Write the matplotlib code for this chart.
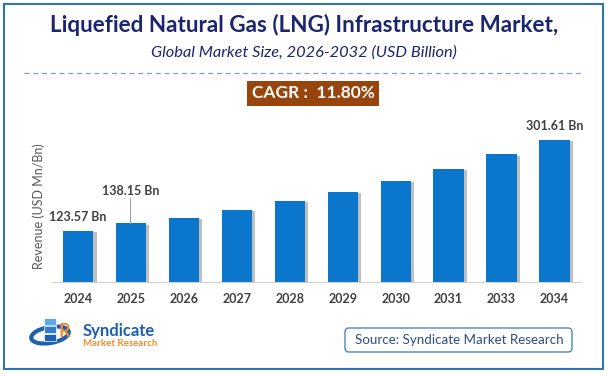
import matplotlib
matplotlib.use("Agg")
import matplotlib.pyplot as plt
import matplotlib.patheffects as pe
from matplotlib.patches import Rectangle, FancyBboxPatch, Ellipse

plt.rcParams['font.family'] = ['Lato', 'DejaVu Sans']

# data
years = ['2024', '2025', '2026', '2027', '2028', '2029', '2030', '2031', '2033', '2034']
revenue = [123.57, 138.15, 148.5, 164.2, 182.5, 200.1, 221.7, 244.7, 273.5, 301.61]
labelled = {0: '123.57 Bn', 1: '138.15 Bn', 9: '301.61 Bn'}

title = 'Liquefied Natural Gas (LNG) Infrastructure Market,'
subtitle = 'Global Market Size, 2026-2032 (USD Billion)'
cagr = 'CAGR :  11.80%'
source = 'Source: Syndicate Market Research'

W, H = 608, 376
bar_color = '#0A77CC'
navy = '#1B2570'
text_gray = '#404040'

fig = plt.figure(figsize=(W / 100, H / 100), dpi=100)

# overlay in pixel coordinates for frame, headings and footer
deco = fig.add_axes([0, 0, 1, 1])
deco.set_xlim(0, W)
deco.set_ylim(H, 0)
deco.axis('off')

deco.add_patch(Rectangle((4.3, 3.7), 599, 365, fill=False, ec='#2E75B6', lw=1.5))
deco.text(304, 25, title, ha='center', va='center', fontsize=16.2, fontweight='bold', color=navy)
deco.text(304, 53, subtitle, ha='center', va='center', fontsize=11.8, style='italic', color=navy)
deco.plot([24, 581], [73.3, 73.3], ls=(0, (4, 3)), color='#7F9FD4', lw=0.9)
deco.add_patch(Rectangle((247.3, 81), 131.7, 24.7, fc='#97450C', ec='none'))
deco.text(313, 93.5, cagr, ha='center', va='center', fontsize=12.5, fontweight='bold', color='white')

# source box
deco.add_patch(FancyBboxPatch((345, 328), 227, 24, boxstyle='round,pad=0,rounding_size=4',
                              fc='white', ec='#4A86C8', lw=1))
deco.text(459, 340, source, ha='center', va='center', fontsize=9.6, color='#2F4B8A')

# logo (rough)
deco.add_patch(Ellipse((50, 335), 38, 16, angle=-10, fill=False, ec='#1E5FB4', lw=3))
for i, (lx, ly) in enumerate([(44, 318), (44, 326), (44, 334)]):
    deco.add_patch(Rectangle((lx, ly), 12, 7, fc=['#5DA9E9', '#2F7FD0', '#1E5FB4'][i], ec='white', lw=0.5))
deco.text(58, 340, 'R', fontsize=13, fontweight='bold', color='#F28C28', ha='left', va='bottom')
deco.text(83, 331, 'Syndicate', fontsize=12, fontweight='bold', color='#1E5FB4', ha='left', va='center')
deco.text(83, 344, 'Market Research', fontsize=7, fontweight='bold', color='#F28C28', ha='left', va='center')

# bar chart
y_bottom_px, y_top_px = 281.7, 130
ax = fig.add_axes([51.5 / W, (H - y_bottom_px) / H, 529.4 / W, (y_bottom_px - y_top_px) / H])
x = range(len(years))
bars = ax.bar(x, revenue, width=0.57, color=bar_color, zorder=2)
for b in bars:
    b.set_path_effects([pe.SimplePatchShadow(offset=(2.5, -1), shadow_rgbFace='#808080', alpha=0.5),
                        pe.Normal()])
ax.set_xlim(-0.5, len(years) - 0.5)
ax.set_ylim(23.46, 321.2)
ax.set_xticks(list(x))
ax.set_xticklabels(years, fontsize=9, fontweight='bold', color=text_gray)
ax.tick_params(axis='x', length=0, pad=8)
ax.set_yticks([])
for s in ['top', 'right', 'left']:
    ax.spines[s].set_visible(False)
ax.spines['bottom'].set_color('#D0D0D0')
ax.set_ylabel('Revenue (USD Mn/Bn)', fontsize=9, color='#595959', labelpad=5)
ax.patch.set_alpha(0)

for i, txt in labelled.items():
    if i == 1:
        ax.plot([i - 0.02, i - 0.02], [revenue[i], revenue[i] + 49], color='#A0A0A0', lw=0.8, zorder=3)
        ax.text(i, revenue[i] + 64, txt, ha='center', va='center', fontsize=9,
                fontweight='bold', color=text_gray)
    else:
        ax.text(i, revenue[i] + 27, txt, ha='center', va='center', fontsize=9,
                fontweight='bold', color=text_gray)

fig.savefig('out.png', dpi=100)
